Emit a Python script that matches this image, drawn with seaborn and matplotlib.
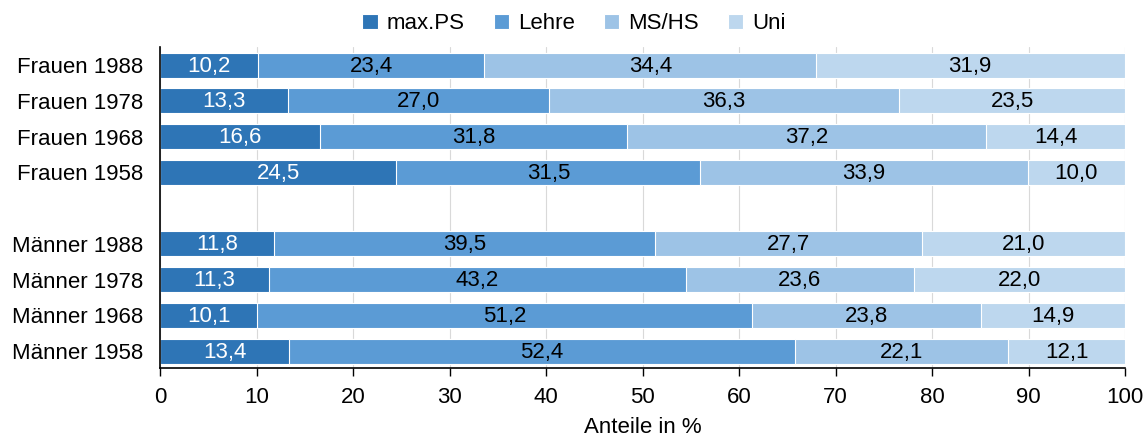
import numpy as np
import pandas as pd
import matplotlib
matplotlib.use("Agg")
import matplotlib.pyplot as plt
import seaborn as sns

# Daten
rows = ["Frauen 1988", "Frauen 1978", "Frauen 1968", "Frauen 1958",
        "Männer 1988", "Männer 1978", "Männer 1968", "Männer 1958"]
order = rows[:4] + [" "] + rows[4:]
groups = ["max.PS", "Lehre", "MS/HS", "Uni"]
max_ps = [10.2, 13.3, 16.6, 24.5, 11.8, 11.3, 10.1, 13.4]
lehre = [23.4, 27.0, 31.8, 31.5, 39.5, 43.2, 51.2, 52.4]
ms_hs = [34.4, 36.3, 37.2, 33.9, 27.7, 23.6, 23.8, 22.1]
uni = [31.9, 23.5, 14.4, 10.0, 21.0, 22.0, 14.9, 12.1]
colors = ["#2E75B6", "#5B9BD5", "#9DC3E6", "#BDD7EE"]

sns.set_theme(style="white")
plt.rcParams['font.family'] = ['Liberation Sans Narrow', 'Liberation Sans', 'DejaVu Sans']
plt.rcParams['text.color'] = 'black'
plt.rcParams['xtick.color'] = 'black'
plt.rcParams['ytick.color'] = 'black'
plt.rcParams['axes.labelcolor'] = 'black'

df = pd.DataFrame({"row": rows, "max.PS": max_ps, "Lehre": lehre, "MS/HS": ms_hs, "Uni": uni})
cum = df[groups].cumsum(axis=1)
cum["Uni"] = 100.0  # letzter Abschnitt bis zum Rand

fig = plt.figure(figsize=(11.48, 4.37), dpi=100)
ax = fig.add_axes([0.1394, 0.158, 0.8406, 0.734])

# gestapelt: von hinten nach vorne zeichnen
for g, c in reversed(list(zip(groups, colors))):
    sns.barplot(x=cum[g], y=df["row"], order=order, orient="h", color=c, saturation=1,
                width=0.7, edgecolor="white", linewidth=0.8, ax=ax, label=g)

pos = {r: i for i, r in enumerate(order)}
for r_i, r in enumerate(rows):
    left = 0
    for g in groups:
        v = df.loc[r_i, g]
        txt = f"{v:.1f}".replace(".", ",")
        ax.text(left + v / 2, pos[r] + 0.03, txt, ha="center", va="center", fontsize=16,
                color="white" if g == "max.PS" else "black")
        left += v

ax.set_xlim(0, 100)
ax.set_ylim(len(order) - 0.53, -0.5)
ax.set_xticks(range(0, 101, 10))
ax.xaxis.grid(True, color="#d9d9d9", linewidth=0.8)
ax.set_axisbelow(True)
ax.tick_params(axis="x", bottom=True, length=6, width=1, color="black", labelsize=16, pad=8)
ax.tick_params(axis="y", left=False, labelsize=16, pad=6)
for s in ["top", "right"]:
    ax.spines[s].set_visible(False)
for s in ["left", "bottom"]:
    ax.spines[s].set_color("black")
    ax.spines[s].set_linewidth(1.2)
ax.set_ylabel("")
ax.set_xlabel("Anteile in %", fontsize=16, labelpad=6)

handles, labels = ax.get_legend_handles_labels()
hl = dict(zip(labels, handles))
fig.legend([hl[g] for g in groups], groups, loc="upper center", bbox_to_anchor=(0.5, 1.015),
           ncol=4, frameon=False, fontsize=16, handlelength=0.7, handleheight=0.7,
           columnspacing=1.3, handletextpad=0.4)
if ax.get_legend():
    ax.get_legend().remove()

fig.savefig("out.png", dpi=100)
